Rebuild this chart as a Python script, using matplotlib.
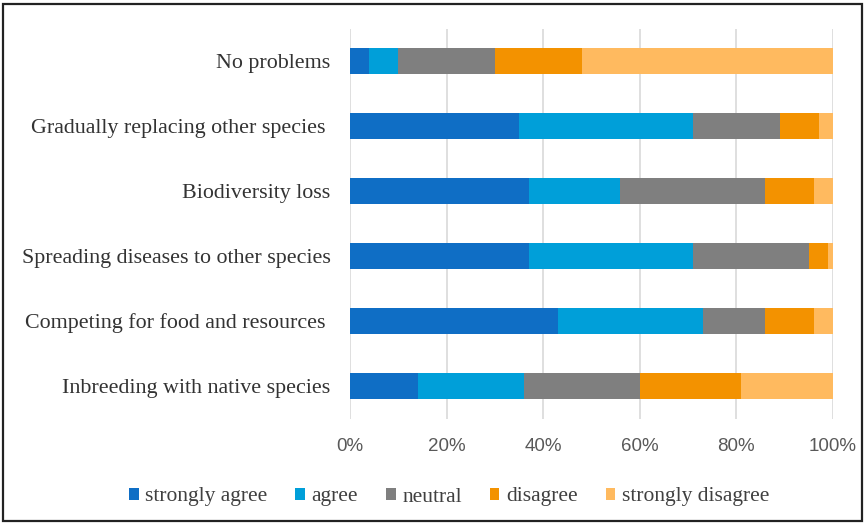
import numpy as np
import matplotlib
matplotlib.use('Agg')
import matplotlib.pyplot as plt
from matplotlib.patches import Rectangle

# categories bottom -> top
categories = ['Inbreeding with native species',
              'Competing for food and resources ',
              'Spreading diseases to other species',
              'Biodiversity loss',
              'Gradually replacing other species ',
              'No problems']

strongly_agree = [14, 43, 37, 37, 35, 4]
agree = [22, 30, 34, 19, 36, 6]
neutral = [24, 13, 24, 30, 18, 20]
disagree = [21, 10, 4, 10, 8, 18]
strongly_disagree = [19, 4, 1, 4, 3, 52]

series_names = ['strongly agree', 'agree', 'neutral', 'disagree', 'strongly disagree']
colors = ['#0F6EC5', '#009FD9', '#7F7F7F', '#F39200', '#FFBA5F']
xticks = [0, 20, 40, 60, 80, 100]

fig = plt.figure(figsize=(8.65, 5.24), dpi=100)
ax = fig.add_axes([350/865, 105.5/524, 483/865, 390/524])

series = [strongly_agree, agree, neutral, disagree, strongly_disagree]
y = np.arange(len(categories))
left = np.zeros(len(categories))
for vals, name, c in zip(series, series_names, colors):
    vals = np.array(vals, dtype=float)
    ax.barh(y, vals, left=left, height=0.41, color=c, label=name, zorder=3)
    left += vals

ax.set_xlim(0, 100)
ax.set_ylim(-0.5, len(categories) - 0.5)
ax.set_xticks(xticks)
ax.set_xticklabels([f'{t}%' for t in xticks], fontsize=13.5, color='#595959',
                   family='Liberation Sans')
ax.set_yticks(y)
ax.set_yticklabels(categories, fontsize=15.8, family='Liberation Serif', color='#333333')
ax.tick_params(axis='both', length=0)
ax.tick_params(axis='y', pad=14)
ax.tick_params(axis='x', pad=14)
ax.grid(axis='x', color='#D9D9D9', linewidth=1.2, zorder=0)
for s in ax.spines.values():
    s.set_visible(False)

leg = fig.legend(loc='center', bbox_to_anchor=(449/865, 1 - 497/524), ncol=5,
                 frameon=False, prop={'family': 'Liberation Serif', 'size': 15.5},
                 handlelength=0.45, handleheight=0.45, handletextpad=0.3,
                 columnspacing=1.3)
for t in leg.get_texts():
    t.set_color('#404040')

# outer frame
fig.patches.append(Rectangle((3/865, 3/524), 859/865, 517/524, transform=fig.transFigure,
                             fill=False, edgecolor='#222222', linewidth=1.6))

fig.savefig('out.png', dpi=100)
